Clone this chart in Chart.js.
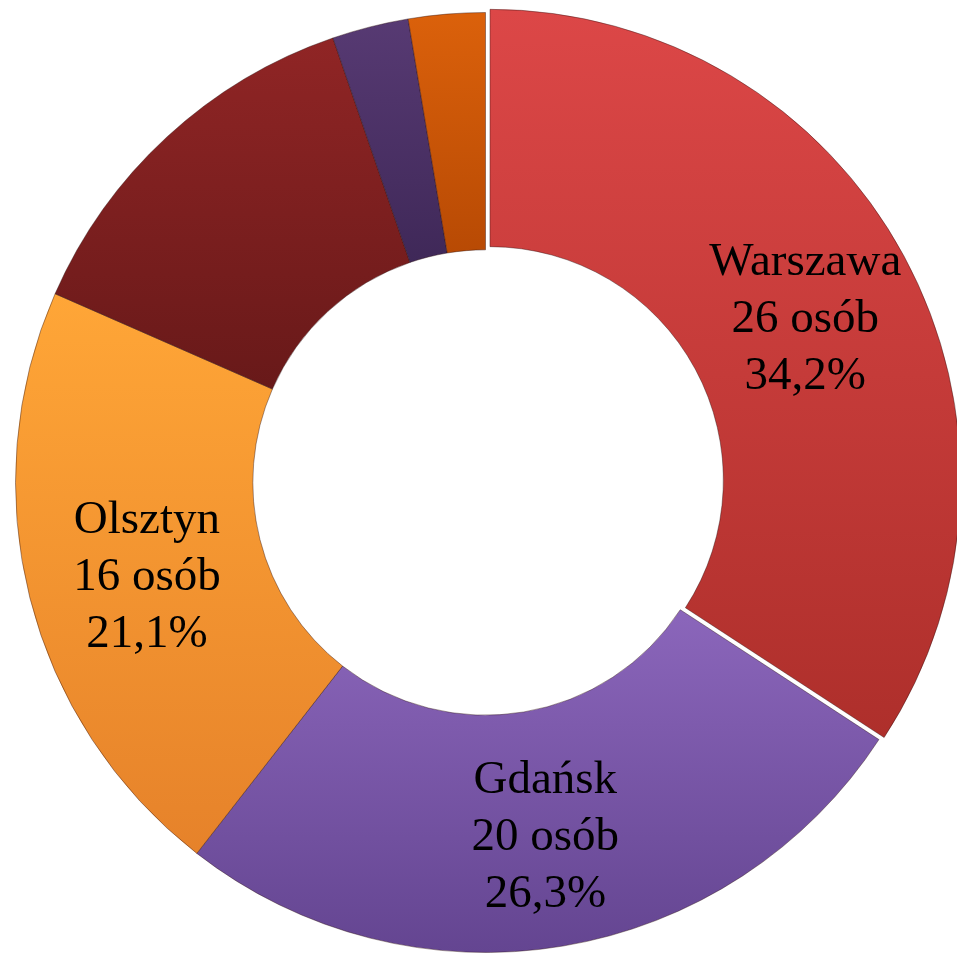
<!DOCTYPE html>
<html>
<head>
<meta charset="utf-8">
<script src="https://cdn.jsdelivr.net/npm/chart.js@4/dist/chart.umd.min.js"></script>
<style>
    html, body { margin: 0; padding: 0; background: #ffffff; }
    #wrap { width: 957px; height: 961px; position: relative; }
</style>
</head>
<body>
<div id="wrap"><canvas id="donut-chart"></canvas></div>
<script>
// dane wykresu
const cities = ['Warszawa', 'Gdańsk', 'Olsztyn', 'Inne 1', 'Inne 2', 'Inne 3'];
const people = [26, 20, 16, 10, 2, 2];
const showLabel = [true, true, true, false, false, false];
const colorsTop = ['#dc4747', '#8b66bb', '#ffa637', '#902525', '#573a73', '#db610b'];
const colorsBottom = ['#ae2f2b', '#644591', '#e6822a', '#681919', '#3f2858', '#b84a04'];
const explode = [20, 0, 0, 0, 0, 0];

document.addEventListener('DOMContentLoaded', () => {
    const total = people.reduce((a, b) => a + b, 0);
    const outerR = 470;

    // pionowy zakres wycinka -> gradient tylko na jego wysokosci
    function sliceGradient(context) {
        const chart = context.chart;
        const area = chart.chartArea;
        const i = context.dataIndex;
        if (!area) return colorsTop[i];
        const cy = (area.top + area.bottom) / 2;
        let before = 0;
        for (let k = 0; k < i; k++) before += people[k];
        const a0 = before / total * Math.PI * 2;
        const a1 = (before + people[i]) / total * Math.PI * 2;
        let minY = Infinity, maxY = -Infinity;
        for (let s = 0; s <= 40; s++) {
            const a = a0 + (a1 - a0) * s / 40;
            [outerR, outerR * 0.495].forEach(r => {
                const y = cy - r * Math.cos(a);
                minY = Math.min(minY, y);
                maxY = Math.max(maxY, y);
            });
        }
        const g = chart.ctx.createLinearGradient(0, minY, 0, maxY);
        g.addColorStop(0, colorsTop[i]);
        g.addColorStop(1, colorsBottom[i]);
        return g;
    }

    // etykiety na wycinkach
    const sliceLabels = {
        id: 'sliceLabels',
        afterDatasetsDraw(chart) {
            const ctx = chart.ctx;
            const meta = chart.getDatasetMeta(0);
            ctx.save();
            ctx.fillStyle = '#000000';
            ctx.font = '47px "Liberation Serif", "Times New Roman", serif';
            ctx.textAlign = 'center';
            ctx.textBaseline = 'middle';
            meta.data.forEach((arc, i) => {
                if (!showLabel[i]) return;
                const pos = arc.tooltipPosition();
                const pct = (people[i] / total * 100).toFixed(1).replace('.', ',') + '%';
                const lines = [cities[i], people[i] + ' osób', pct];
                const lh = 57;
                const y0 = pos.y + 9 - lh;
                lines.forEach((t, k) => ctx.fillText(t, pos.x + 2, y0 + k * lh));
            });
            ctx.restore();
        }
    };

    const ctx = document.getElementById('donut-chart').getContext('2d');
    new Chart(ctx, {
        type: 'doughnut',
        data: {
            labels: cities,
            datasets: [{
                data: people,
                backgroundColor: sliceGradient,
                borderColor: 'rgba(40, 10, 10, 0.4)',
                borderWidth: 1,
                offset: explode,
                hoverOffset: 0
            }]
        },
        options: {
            responsive: true,
            maintainAspectRatio: false,
            animation: false,
            radius: outerR,
            cutout: '49.5%',
            layout: { padding: { left: 14, top: 4, right: 0, bottom: 0 } },
            plugins: {
                legend: { display: false },
                tooltip: { enabled: false }
            }
        },
        plugins: [sliceLabels]
    });
});
</script>
</body>
</html>
